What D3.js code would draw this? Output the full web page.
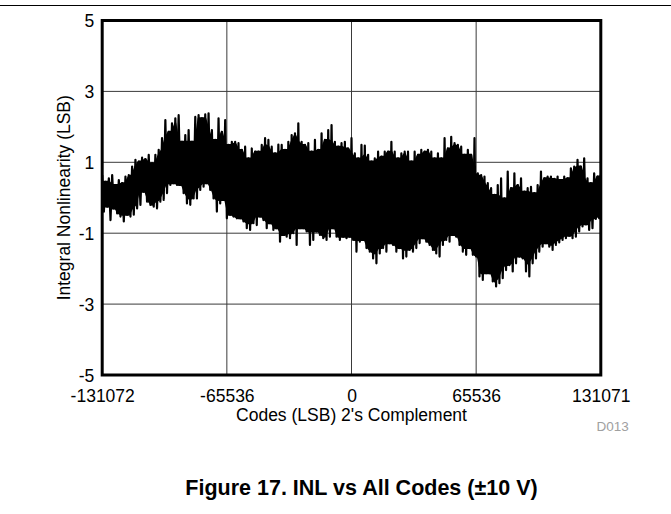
<!DOCTYPE html>
<html>
<head>
<meta charset="utf-8">
<script src="https://cdn.jsdelivr.net/npm/d3@7"></script>
<style>
  html, body { margin: 0; padding: 0; background: #fff; }
  svg { display: block; font-family: "Liberation Sans", Arial, sans-serif; }
</style>
</head>
<body>
<svg id="chart" width="671" height="514"></svg>
<script>
// ---- data ----
const xTickValues = [-131072, -65536, 0, 65536, 131071];
const yTickValues = [-5, -3, -1, 1, 3, 5];
const codeMin = -131072;
const codeMax = 131071;
// upper and lower excursions of the INL trace (LSB), 151 equally spaced code columns
const inlUpper = [
  0.64,0.45,0.55,0.64,0.36,0.50,0.41,0.60,0.64,0.88,1.07,1.02,1.13,1.09,1.21,0.97,1.21,1.35,1.68,2.19,1.86,2.10,2.24,2.33,1.58,1.77,1.91,1.58,2.28,2.33,2.24,2.35,2.38,1.91,1.63,2.24,1.86,2.19,
  1.49,1.58,1.58,1.54,1.35,1.44,1.11,1.39,1.30,1.30,1.49,1.68,1.63,1.44,1.25,1.50,1.49,1.35,1.58,1.77,1.82,2.10,1.58,1.49,1.54,1.30,1.63,1.35,1.82,1.63,1.91,2.05,1.58,1.44,1.54,1.58,1.39,1.68,
  1.25,1.11,1.49,1.47,1.21,1.02,1.11,1.30,1.16,1.30,1.30,1.58,1.30,1.11,1.25,1.30,1.30,1.02,1.30,1.21,1.35,1.30,1.35,1.30,1.11,1.25,1.11,1.68,1.39,1.72,1.54,1.49,1.44,1.21,1.35,1.21,1.68,
  0.69,0.64,0.60,0.41,0.27,0.08,0.36,0.55,-0.02,0.74,0.27,0.69,0.36,0.55,0.17,0.27,0.31,0.13,0.36,0.74,0.55,0.60,0.60,0.53,0.60,0.50,0.60,0.55,0.83,0.88,1.07,0.88,1.11,0.55,0.41,0.69,0.60,0.64
];
const inlLower = [
  -0.39,-0.25,-0.63,-0.30,-0.44,-0.53,-0.67,-0.48,-0.53,-0.48,-0.30,-0.20,0.17,-0.11,-0.20,-0.25,-0.30,-0.11,-0.06,0.13,0.36,0.41,0.36,0.36,0.13,-0.16,-0.20,-0.02,-0.02,0.22,0.31,0.41,0.22,-0.02,-0.39,-0.16,-0.06,-0.58,
  -0.48,-0.53,-0.58,-0.58,-0.67,-0.86,-0.91,-0.72,-0.77,-0.53,-0.63,-0.86,-0.72,-0.91,-0.86,-1.24,-1.05,-1.10,-1.14,-1.00,-1.33,-0.86,-0.86,-0.95,-1.33,-1.19,-0.95,-1.05,-1.14,-1.19,-1.10,-0.86,-1.10,-1.19,-1.10,-1.14,-1.10,-1.19,
  -1.52,-1.24,-1.19,-1.42,-1.52,-1.71,-1.85,-1.57,-1.42,-1.52,-1.28,-1.33,-1.52,-1.42,-1.71,-1.66,-1.47,-1.52,-1.42,-1.28,-1.14,-1.24,-1.33,-1.47,-1.57,-1.66,-1.33,-1.19,-1.24,-1.05,-1.10,-1.33,-1.52,-1.61,-1.42,-1.61,-1.66,
  -2.22,-2.32,-2.13,-2.13,-2.36,-2.50,-2.41,-2.27,-2.04,-1.90,-2.08,-1.85,-1.66,-1.71,-2.08,-2.22,-1.85,-1.71,-1.52,-1.38,-1.28,-1.38,-1.47,-1.33,-1.26,-1.19,-1.14,-1.07,-1.14,-1.10,-0.95,-0.81,-0.75,-0.91,-0.86,-0.60,-0.58,-0.53
];
const xTitle = "Codes (LSB) 2's Complement";
const yTitle = "Integral Nonlinearity (LSB)";
const caption = "Figure 17. INL vs All Codes (\u00B110 V)";
const figId = "D013";

// ---- layout ----
const W = 671, H = 514;
const plot = { left: 102.2, right: 600.8, top: 20.5, bottom: 375 };
const svg = d3.select("#chart");

const x = d3.scaleLinear().domain([codeMin, codeMax]).range([plot.left, plot.right]);
const y = d3.scaleLinear().domain([-5, 5]).range([plot.bottom, plot.top]);

// top rule
svg.append("line").attr("x1", 0).attr("x2", W).attr("y1", 5.5).attr("y2", 5.5)
  .attr("stroke", "#000").attr("stroke-width", 1.2);

// gridlines
const grid = svg.append("g");
grid.selectAll("line.gx").data(xTickValues.slice(1, -1)).enter().append("line")
  .attr("x1", d => x(d)).attr("x2", d => x(d))
  .attr("y1", plot.top).attr("y2", plot.bottom)
  .attr("stroke", "#3a3a3a").attr("stroke-width", 1);
grid.selectAll("line.gy").data(yTickValues.slice(1, -1)).enter().append("line")
  .attr("x1", plot.left).attr("x2", plot.right)
  .attr("y1", d => y(d)).attr("y2", d => y(d))
  .attr("stroke", "#3a3a3a").attr("stroke-width", 1);

// data trace
const n = inlUpper.length;
const stepCode = (codeMax - codeMin) / (n - 1);
const cols = inlUpper.map((u, i) => ({ c: codeMin + i * stepCode, u: u, l: inlLower[i] }));
// dense core of the trace: the band reached by every neighbouring excursion
const core = cols.map((d, i) => {
  const a = Math.max(0, i - 1), b = Math.min(n - 1, i + 1);
  return {
    c: d.c,
    u: Math.min(inlUpper[a], inlUpper[i], inlUpper[b]),
    l: Math.max(inlLower[a], inlLower[i], inlLower[b])
  };
});

svg.append("defs").append("clipPath").attr("id", "clip")
  .append("rect").attr("x", plot.left).attr("y", plot.top)
  .attr("width", plot.right - plot.left).attr("height", plot.bottom - plot.top);
const dataG = svg.append("g").attr("clip-path", "url(#clip)");

const area = d3.area().x(d => x(d.c)).y0(d => y(d.l)).y1(d => y(d.u));
dataG.append("path").datum(core).attr("d", area).attr("fill", "#000")
  .attr("stroke", "#000").attr("stroke-width", 2).attr("stroke-linejoin", "round");

// zig-zag trace between upper and lower excursions
const pts = [];
cols.forEach((d, i) => {
  pts.push([d.c, d.u]);
  pts.push([i < n - 1 ? d.c + stepCode / 2 : d.c, d.l]);
});
const line = d3.line().x(d => x(d[0])).y(d => y(d[1]));
dataG.append("path").datum(pts)
  .attr("d", line)
  .attr("fill", "none").attr("stroke", "#000").attr("stroke-width", 2.2)
  .attr("stroke-linejoin", "round");

// frame
svg.append("rect").attr("x", plot.left).attr("y", plot.top)
  .attr("width", plot.right - plot.left).attr("height", plot.bottom - plot.top)
  .attr("fill", "none").attr("stroke", "#000").attr("stroke-width", 3);

// axes (labels only)
const fmt = d => String(d);
const yAxis = d3.axisLeft(y).tickValues(yTickValues).tickSize(0).tickPadding(8).tickFormat(fmt);
const gy = svg.append("g").attr("transform", `translate(${plot.left},0)`).call(yAxis);
gy.select(".domain").remove();
gy.selectAll("text").attr("font-size", 17.5).attr("fill", "#000")
  .attr("font-family", "Liberation Sans, Arial, sans-serif").attr("dy", "0.35em");

const xAxis = d3.axisBottom(x).tickValues(xTickValues).tickSize(0).tickFormat(fmt);
const gx = svg.append("g").attr("transform", `translate(0,${plot.bottom})`).call(xAxis);
gx.select(".domain").remove();
gx.selectAll("text").attr("font-size", 17.5).attr("fill", "#000")
  .attr("font-family", "Liberation Sans, Arial, sans-serif")
  .attr("y", 0).attr("dy", 0).attr("transform", "translate(0,26.5)");

// titles
svg.append("text").attr("x", (plot.left + plot.right) / 2).attr("y", 421)
  .attr("text-anchor", "middle").attr("font-size", 17.5).text(xTitle);
svg.append("text").attr("transform", `translate(70,${(plot.top + plot.bottom) / 2}) rotate(-90)`)
  .attr("text-anchor", "middle").attr("font-size", 17.5).text(yTitle);
svg.append("text").attr("x", 628.7).attr("y", 431).attr("text-anchor", "end")
  .attr("font-size", 13.5).attr("fill", "#a0a0a0").text(figId);
svg.append("text").attr("x", 361.5).attr("y", 495).attr("text-anchor", "middle")
  .attr("font-size", 21.5).attr("font-weight", "bold").text(caption);
</script>
</body>
</html>
